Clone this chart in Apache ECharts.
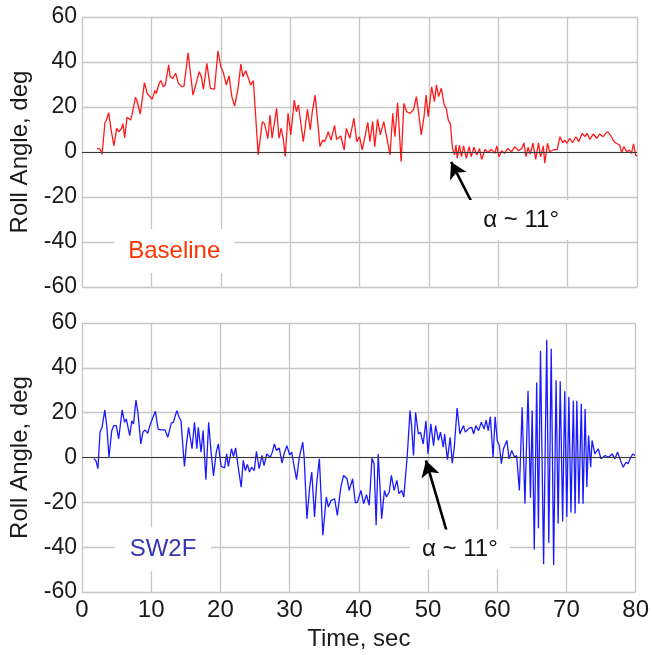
<!DOCTYPE html>
<html>
<head>
<meta charset="utf-8">
<script src="https://cdn.jsdelivr.net/npm/echarts@6/dist/echarts.min.js"></script>
<style>
html,body{margin:0;padding:0;background:#fff;}
#chart{width:652px;height:655px;}
</style>
</head>
<body>
<div id="chart"></div>
<script>
// ---- Data ----
const xTickValues = [0, 10, 20, 30, 40, 50, 60, 70, 80];
const yTickValues = [-60, -40, -20, 0, 20, 40, 60];

const baselineTime = [2.16,2.6,2.9,3.3,3.5,3.85,4.2,4.6,5.0,5.3,5.7,5.9,6.15,6.5,7.0,7.2,7.7,7.9,8.4,9.0,9.4,9.6,10.1,10.5,10.7,11.15,11.4,11.7,12.0,12.5,12.7,13.1,13.5,13.9,14.4,14.7,15.3,16.0,16.6,16.9,17.2,17.5,18.0,18.5,19.1,19.6,20.0,20.4,20.8,21.2,21.6,22.0,22.5,22.9,23.2,23.6,24.0,24.3,24.7,25.4,26.0,26.3,26.8,27.1,27.4,28.05,28.4,28.7,29.0,29.3,29.7,30.1,30.6,30.9,31.2,31.9,32.5,32.9,33.2,33.6,34.0,34.3,34.7,35.0,35.5,35.9,36.4,36.7,37.3,37.8,38.1,38.6,39.2,39.6,40.0,40.4,41.2,41.5,41.9,42.2,42.6,43.0,43.5,43.9,44.4,44.8,45.1,45.5,46.0,46.4,46.8,47.3,47.8,48.2,48.5,48.9,49.3,49.6,49.9,50.4,50.8,51.1,51.4,51.8,52.2,52.5,52.8,53.1,53.4,53.7,53.9,54.1,54.4,54.7,55.0,55.4,55.8,56.1,56.5,56.9,57.3,57.6,58.1,58.5,59.0,59.5,59.8,60.1,60.5,60.9,61.4,61.9,62.4,62.9,63.4,63.7,64.0,64.3,64.6,65.0,65.4,65.8,66.1,66.5,66.7,67.1,67.4,67.9,68.5,68.9,69.3,69.6,69.9,70.3,70.7,71.2,71.6,72.1,72.5,72.8,73.2,73.7,74.2,74.6,75.1,75.5,75.8,76.3,76.7,77.0,77.5,77.8,78.1,78.5,78.9,79.2,79.5,79.8,80.0];
const baselineRoll = [1.6,1.3,-1,13,14,17.5,9.8,2.7,10.5,9,10.5,12.6,6.3,15.4,14.2,16.4,24.3,23,16.9,30.8,26,25.6,23.4,27.3,26,30.8,31.7,29,29.8,38.7,33.5,32.7,35,30.5,29,29.3,44.1,25.3,32.3,35.7,33.5,27.9,39.4,28.3,27.9,45,38,35,29.8,33.8,24.6,20.4,28.3,39.1,33.5,36.1,32.7,29.8,31.7,-1.3,13.5,12.6,6,16.4,6.1,19.4,6.1,10.5,6,-2,17.2,7.6,23.1,17.9,20.9,4.6,19,9.8,17.9,25.3,12.6,2.4,5.3,4.6,9,5.3,11.8,5.6,7.1,0.9,10.5,6.1,15,4.6,6.8,0.9,13.2,4.6,13.5,2.4,14.5,7.6,13.5,7.1,-1.3,17.2,6.8,21.9,-4.3,21.6,17.9,17.2,19,24.6,17.9,7.6,15.7,25.3,15.7,29,22.4,29.8,24.6,28.3,21,19.4,14.2,12.6,1.6,-1.3,3.1,-2.8,3.1,-2.1,2.7,-2.8,2.4,-2.1,2.1,-1.3,1.6,-3.3,1.2,-0.3,1.2,-0.6,2.7,-2.1,0.6,-0.6,1.6,0.1,2.4,0.6,1.6,4.1,-2.1,2.1,-0.9,3.9,-3.3,4.1,-2.1,2.7,-5.0,3.9,0.1,0.9,1.2,6.8,4.1,5.3,3.9,6.1,4.1,6.8,4.6,8.3,6.8,8.3,5.6,8.0,6.1,8.0,6.8,8.3,9.0,6.8,4.6,3.9,3.1,-0.3,2.4,0.1,0.9,-0.6,3.6,-1.3,-1.8];

const sw2fTime = [1.7,2.0,2.3,2.6,2.9,3.3,3.6,3.9,4.3,4.6,4.95,5.3,5.8,6.15,6.4,6.9,7.2,7.45,7.8,8.1,8.5,8.8,9.1,9.5,9.8,10.1,10.6,11.0,11.4,12.0,12.4,12.9,13.2,13.7,14.0,14.3,14.8,15.1,15.4,15.9,16.25,16.6,16.8,17.2,17.5,17.9,18.3,18.65,19.0,19.4,19.7,20.1,20.6,20.9,21.15,21.6,21.9,22.2,22.6,23.0,23.3,23.6,23.9,24.2,24.5,24.9,25.2,25.6,26.0,26.3,26.7,27.2,27.5,27.8,28.1,28.5,28.9,29.2,29.6,30.0,30.3,30.6,31.0,31.4,31.9,32.1,32.5,32.9,33.2,33.6,33.9,34.3,34.8,35.3,35.6,36.0,36.5,36.9,37.4,37.8,38.3,38.6,39.1,39.5,39.8,40.3,40.7,41.1,41.5,41.9,42.2,42.5,42.8,43.3,43.7,44.0,44.4,44.7,45.1,45.5,45.8,46.2,46.5,47.0,47.4,47.6,47.9,48.2,48.6,48.9,49.3,49.7,50.0,50.4,50.8,51.1,51.5,51.8,52.2,52.4,52.8,53.2,53.5,53.8,54.2,54.6,55.1,55.4,55.9,56.3,56.6,56.9,57.3,57.7,58.1,58.4,58.7,59.0,59.4,59.7,60.0,60.3,60.6,60.9,61.4,61.7,62.1,62.5,62.8,63.2,63.6,64.0,64.45,64.8,65.05,65.35,65.7,65.95,66.25,66.7,67.15,67.45,67.8,68.15,68.5,68.8,69.1,69.45,69.75,70.05,70.35,70.65,71.0,71.25,71.5,71.8,72.15,72.4,72.7,72.95,73.2,73.5,73.7,74.1,74.6,75.0,75.6,76.1,76.6,77.0,77.4,77.9,78.2,78.6,78.9,79.3,79.6,79.9];
const sw2fRoll = [-0.6,-1.3,-5.0,11.3,13.5,21.2,13.5,0.1,12,14.2,14.2,8.3,21.2,15.7,17.2,9.8,16.4,15,25.6,19.4,6.1,11.3,12.3,10.8,14.2,16.7,20.6,12.7,12.3,12.3,9.0,15.3,15.7,20.9,18.2,16.4,-4.0,6.1,13.5,3.9,15.7,3.9,13.5,2.4,12,-9.9,15.7,2.4,-8.2,2.4,6.1,-4.0,-4.6,1.6,-4.0,3.9,0.4,4.3,-5,-13.2,-1.3,-5.8,-3.1,-6.5,-4.3,-5.8,2.7,-5,0.9,-3.6,1.6,0.1,2.4,6.1,3.1,4.3,-2.5,1.6,5.3,1.2,2.4,-3.1,-9.9,0.1,6.8,0.1,-27.3,-13.2,-6.5,-26.5,-11.7,-0.6,-34.7,-17.6,-22.1,-19.1,-18.4,-25.8,-13.2,-8.0,-9.5,-14.7,-9.5,-20.3,-19.9,-14.7,-20.6,-16.6,-21.3,-0.3,-2.8,-30.2,1.6,-27.3,-14.7,-17.6,-15.4,-8.0,-14.7,-10.2,-16.1,-14.7,-17.6,0.9,20.9,15.0,0.9,20.1,10.5,11.3,6.1,16.4,1.6,15.0,5.3,14.2,7.6,11.3,4.6,10.5,-1.0,9.0,-2.5,4.6,22.1,10.5,14.2,11.3,13,13.5,10.5,14.2,12.0,15.7,12.7,16.7,12.0,18.2,0.1,18.2,7.6,5.3,-2.8,3.9,7.6,-0.6,3.1,0.1,0.9,-14.7,22.4,-20.6,29.8,-18,21,-41,33.5,-31.6,47.6,-47.6,52.5,-38,48.5,-48,34.5,-29.5,34,-28.5,29.5,-26.5,27,-24.5,25.3,-25,25.3,-20.6,24,-20.6,21.6,-13.2,9.8,-4.3,7.6,1.6,3.9,-0.6,0.9,0.1,1.6,-0.6,2.4,-2.1,-4.3,-2.1,-2.8,0.1,1.6,0.9];

const baselineData = baselineTime.map((t, i) => [t, baselineRoll[i]]);
const sw2fData = sw2fTime.map((t, i) => [t, sw2fRoll[i]]);

// ---- Chart ----
const FONT = 'Liberation Sans, Arial, Helvetica, sans-serif';
const gridColor = '#c6c6c6';

function xAxisCfg(gridIndex, showLabels) {
  return {
    type: 'value', gridIndex: gridIndex, min: 0, max: 80, interval: 10,
    axisLine: { show: false }, axisTick: { show: false },
    axisLabel: { show: showLabels, color: '#1a1a1a', fontSize: 24, fontFamily: FONT, margin: 6 },
    splitLine: { show: true, lineStyle: { color: gridColor, width: 1.3 } },
    name: showLabels ? 'Time, sec' : '',
    nameLocation: 'middle', nameGap: 35,
    nameTextStyle: { color: '#1a1a1a', fontSize: 24, fontFamily: FONT }
  };
}
function yAxisCfg(gridIndex) {
  return {
    type: 'value', gridIndex: gridIndex, min: -60, max: 60, interval: 20,
    axisLine: { show: false }, axisTick: { show: false },
    axisLabel: { color: '#1a1a1a', fontSize: 23, fontFamily: FONT, margin: 5 },
    splitLine: { show: true, lineStyle: { color: gridColor, width: 1.3 } },
    name: 'Roll Angle, deg', nameLocation: 'middle', nameGap: 50,
    nameTextStyle: { color: '#1a1a1a', fontSize: 24, fontFamily: FONT }
  };
}

const zeroLine = {
  silent: true, symbol: 'none', animation: false,
  label: { show: false },
  lineStyle: { color: '#3a3a3a', width: 1.2, type: 'solid' },
  data: [{ yAxis: 0 }]
};

function arrow(from, to) {
  return {
    silent: true, symbol: ['none', 'arrow'], symbolSize: [14, 16], animation: false,
    label: { show: false },
    lineStyle: { color: '#000', width: 2.6, type: 'solid' },
    data: [[{ coord: from }, { coord: to }]]
  };
}

function textBox(coord, text, color, w, h) {
  return {
    coord: coord, symbol: 'rect', symbolSize: [w, h],
    itemStyle: { color: '#fff' },
    label: { show: true, position: 'inside', formatter: text, color: color, fontSize: 24, fontFamily: FONT }
  };
}

const option = {
  animation: false,
  backgroundColor: '#fff',
  grid: [
    { left: 82, right: 15, top: 17, height: 270 },
    { left: 82, right: 15, top: 323, height: 269 }
  ],
  xAxis: [xAxisCfg(0, false), xAxisCfg(1, true)],
  yAxis: [yAxisCfg(0), yAxisCfg(1)],
  series: [
    {
      name: 'Baseline', type: 'line', xAxisIndex: 0, yAxisIndex: 0,
      data: baselineData, showSymbol: false, symbol: 'none',
      lineStyle: { color: '#ff1a1a', width: 1.3 },
      markLine: zeroLine,
      markPoint: { silent: true, animation: false, data: [
        textBox([13.3, -44], 'Baseline', '#ff3300', 120, 44),
        textBox([63.3, -30.2], 'α ~ 11°', '#111', 104, 40)
      ] },
      z: 3
    },
    {
      name: 'BaselineArrow', type: 'line', xAxisIndex: 0, yAxisIndex: 0,
      data: [], markLine: arrow([56.6, -24.9], [53.2, -4.4]), z: 4
    },
    {
      name: 'SW2F', type: 'line', xAxisIndex: 1, yAxisIndex: 1,
      data: sw2fData, showSymbol: false, symbol: 'none',
      lineStyle: { color: '#1a1aff', width: 1.3 },
      markLine: zeroLine,
      markPoint: { silent: true, animation: false, data: [
        textBox([11.7, -40.9], 'SW2F', '#3535b0', 96, 44),
        textBox([54.6, -41], 'α ~ 11°', '#111', 100, 40)
      ] },
      z: 3
    },
    {
      name: 'SW2FArrow', type: 'line', xAxisIndex: 1, yAxisIndex: 1,
      data: [], markLine: arrow([52.9, -35.1], [49.7, -1.3]), z: 4
    }
  ]
};

const chart = echarts.init(document.getElementById('chart'), null, { renderer: 'canvas' });
chart.setOption(option);
</script>
</body>
</html>
